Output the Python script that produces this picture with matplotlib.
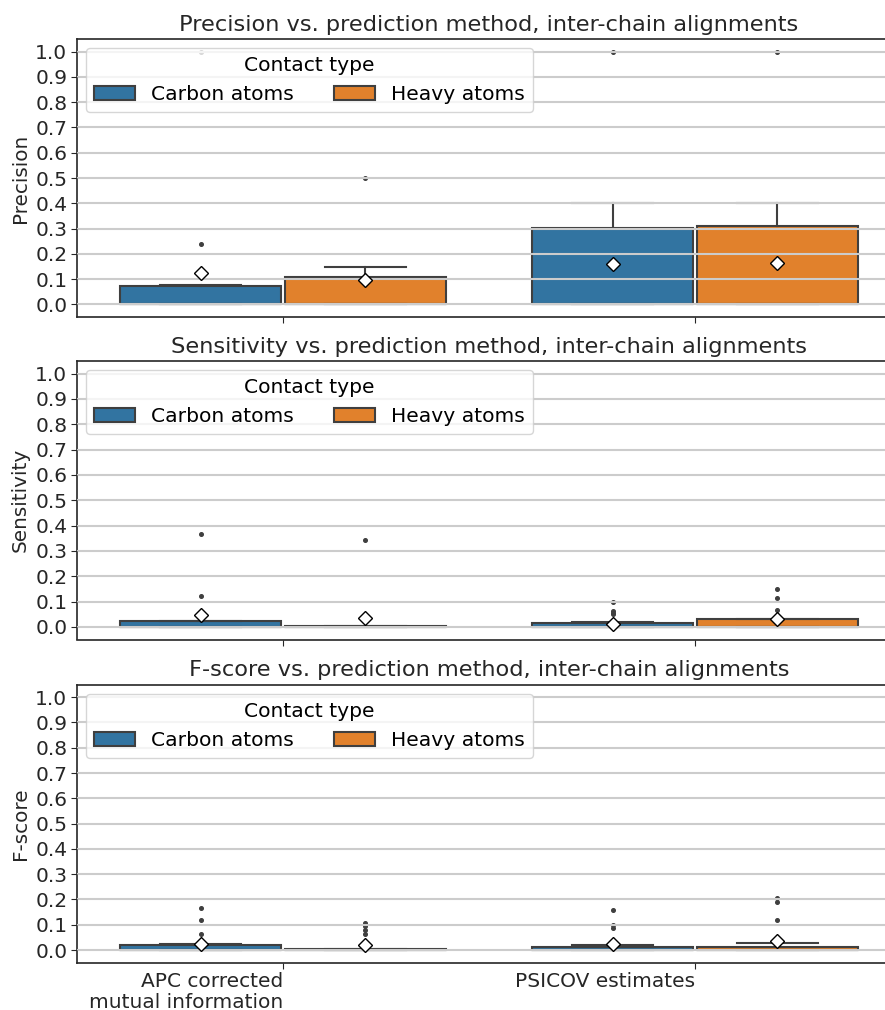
import matplotlib
matplotlib.use("Agg")
import matplotlib.pyplot as plt
from matplotlib.patches import Patch
import numpy as np

# Categories and groups
methods = ["APC corrected\nmutual information", "PSICOV estimates"]
contact_types = ["Carbon atoms", "Heavy atoms"]
metrics = ["Precision", "Sensitivity", "F-score"]
colors = ["#3274a1", "#e1812c"]

# Box statistics, ordered (APC carbon, APC heavy, PSICOV carbon, PSICOV heavy)
precision_q1 = [0.0, 0.0, 0.0, 0.0]
precision_med = [0.0, 0.0, 0.0, 0.0]
precision_q3 = [0.072, 0.108, 0.302, 0.311]
precision_whishi = [0.076, 0.146, 0.402, 0.402]
precision_mean = [0.123, 0.096, 0.158, 0.163]
precision_fliers = [[0.237, 1.0], [0.499], [1.0], [1.0]]

sensitivity_q1 = [0.0, 0.0, 0.0, 0.0]
sensitivity_med = [0.0, 0.0, 0.0, 0.0]
sensitivity_q3 = [0.024, 0.004, 0.016, 0.030]
sensitivity_whishi = [0.024, 0.004, 0.018, 0.030]
sensitivity_mean = [0.045, 0.034, 0.013, 0.030]
sensitivity_fliers = [[0.365, 0.122], [0.344],
                      [0.099, 0.062, 0.055, 0.050], [0.150, 0.115, 0.065]]

fscore_q1 = [0.0, 0.0, 0.0, 0.0]
fscore_med = [0.0, 0.0, 0.0, 0.0]
fscore_q3 = [0.019, 0.003, 0.014, 0.014]
fscore_whishi = [0.023, 0.003, 0.020, 0.028]
fscore_mean = [0.025, 0.019, 0.024, 0.037]
fscore_fliers = [[0.168, 0.120, 0.062], [0.105, 0.095, 0.080, 0.065],
                 [0.160, 0.100, 0.088], [0.207, 0.190, 0.118]]

panels = [
    (precision_q1, precision_med, precision_q3, precision_whishi, precision_mean, precision_fliers),
    (sensitivity_q1, sensitivity_med, sensitivity_q3, sensitivity_whishi, sensitivity_mean, sensitivity_fliers),
    (fscore_q1, fscore_med, fscore_q3, fscore_whishi, fscore_mean, fscore_fliers),
]

gray = "#3f3f3f"
text_col = "#262626"
W, H = 885, 1010
fig = plt.figure(figsize=(W / 100, H / 100), dpi=100)

ax_left, ax_right = 77, 901
tops = [39, 361, 684.5]
bottoms = [317, 639.5, 962.7]

hue_offsets = [-0.2, 0.2]
box_width = 0.392

for i, (metric, stats) in enumerate(zip(metrics, panels)):
    q1, med, q3, whishi, mean, fliers = stats
    ax = fig.add_axes([ax_left / W, 1 - bottoms[i] / H,
                       (ax_right - ax_left) / W, (bottoms[i] - tops[i]) / H])
    bxp_stats, positions, facecols = [], [], []
    k = 0
    for m in range(len(methods)):
        for h in range(len(contact_types)):
            bxp_stats.append(dict(q1=q1[k], med=med[k], q3=q3[k],
                                  whislo=q1[k], whishi=whishi[k],
                                  mean=mean[k], fliers=fliers[k]))
            positions.append(m + hue_offsets[h])
            facecols.append(colors[h])
            k += 1
    res = ax.bxp(bxp_stats, positions=positions, widths=box_width,
                 patch_artist=True, showmeans=True, manage_ticks=False,
                 boxprops=dict(edgecolor=gray, linewidth=1.5),
                 whiskerprops=dict(color=gray, linewidth=1.5),
                 capprops=dict(color=gray, linewidth=1.5),
                 medianprops=dict(color=gray, linewidth=1.5),
                 meanprops=dict(marker="D", markerfacecolor="white",
                                markeredgecolor="black", markersize=7.5),
                 flierprops=dict(marker="o", markerfacecolor=gray,
                                 markeredgecolor=gray, markersize=2.6))
    for patch, fc in zip(res["boxes"], facecols):
        patch.set_facecolor(fc)
    for mline in res["means"]:
        mline.set_zorder(4)

    ax.set_xlim(-0.5, len(methods) - 0.5)
    ax.set_ylim(-0.05, 1.05)
    ax.set_yticks(np.arange(0, 1.01, 0.1))
    ax.set_yticklabels([f"{v:.1f}" for v in np.arange(0, 1.01, 0.1)])
    ax.set_xticks(range(len(methods)))
    if i == len(metrics) - 1:
        ax.set_xticklabels(methods, ha="right", fontsize=14.5, linespacing=1.1)
    else:
        ax.set_xticklabels([])
    ax.set_axisbelow(False)
    ax.yaxis.grid(True, color="#cccccc", linewidth=1.5)
    ax.xaxis.grid(False)
    ax.tick_params(axis="both", labelsize=14.5, length=4, color=text_col,
                   labelcolor=text_col, pad=3)
    for sp in ax.spines.values():
        sp.set_color(text_col)
        sp.set_linewidth(1.2)
    ax.spines["right"].set_visible(False)
    ax.set_ylabel(metric, fontsize=14.4, color=text_col, labelpad=4)
    ax.set_title(f"{metric} vs. prediction method, inter-chain alignments",
                 fontsize=16.2, color=text_col, pad=6)
    handles = [Patch(facecolor=c, edgecolor=gray, linewidth=1.5) for c in colors]
    ax.legend(handles, contact_types, title="Contact type", ncol=2,
              loc="upper left", fontsize=14.6, title_fontsize=14.6,
              borderaxespad=0.45)

fig.savefig("out.png", dpi=100)
